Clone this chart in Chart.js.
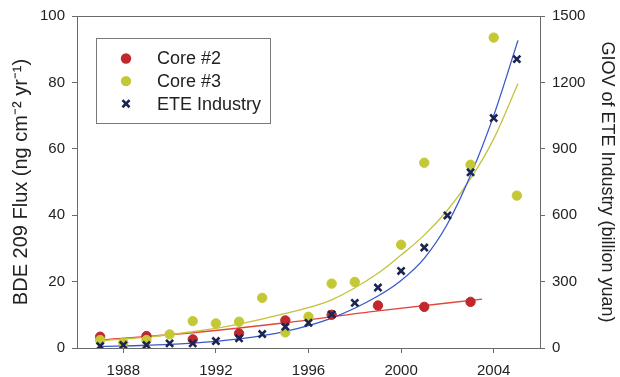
<!DOCTYPE html>
<html>
<head>
<meta charset="utf-8">
<script src="https://cdn.jsdelivr.net/npm/chart.js@4.4.1/dist/chart.umd.min.js"></script>
<style>
  html, body { margin: 0; padding: 0; background: #ffffff; }
  #wrap { width: 620px; height: 377px; }
</style>
</head>
<body>
<div id="wrap"><canvas id="c" width="620" height="377"></canvas></div>
<script>
// BDE 209 flux in sediment cores (left axis) and GIOV of the ETE industry (right axis)
const xTicks = [1988, 1992, 1996, 2000, 2004];
const fluxTicks = [0, 20, 40, 60, 80, 100];
const giovTicks = [0, 300, 600, 900, 1200, 1500];

const core2Years = [1987, 1989, 1991, 1993, 1995, 1997, 1999, 2001, 2003];
const core2Flux  = [3.4, 3.6, 2.6, 4.4, 8.3, 10.0, 12.8, 12.4, 13.9];

const core3Years = [1987, 1988, 1989, 1990, 1991, 1992, 1993, 1994, 1995, 1996, 1997, 1998, 2000, 2001, 2003, 2004, 2005];
const core3Flux  = [2.4, 1.6, 2.4, 4.1, 8.1, 7.4, 7.9, 15.1, 4.7, 9.4, 19.4, 19.9, 31.1, 55.8, 55.2, 93.5, 45.9];

const eteYears = [1987, 1988, 1989, 1990, 1991, 1992, 1993, 1994, 1995, 1996, 1997, 1998, 1999, 2000, 2001, 2002, 2003, 2004, 2005];
const eteGiov  = [9, 13.5, 13.5, 21, 21, 31.5, 44, 63, 96, 114, 152, 204, 273, 348, 454, 599, 794, 1039, 1305];

// fitted trend curves
const core2FitYears = [1987, 1991, 1995, 1999, 2003.5];
const core2Fit      = [2.4, 4.6, 7.6, 11.2, 14.7];

const core3FitYears = [1987, 1989, 1991, 1993, 1995, 1997, 1999, 2000, 2001, 2002, 2003, 2004, 2005.05];
const core3Fit      = [2.2, 3.3, 4.9, 7.2, 10.4, 14.5, 22.5, 28.0, 34.0, 41.5, 51.0, 63.0, 79.7];

const eteFitYears = [1987, 1989, 1991, 1993, 1995, 1997, 1999, 2000, 2001, 2002, 2003, 2004, 2005.05];
const eteFit      = [7, 12.5, 22, 41, 75, 135, 235, 305, 405, 560, 780, 1050, 1390];

const pairs = (xs, ys) => xs.map((x, i) => ({ x: x, y: ys[i] }));

const FONT = "'Liberation Sans', Arial, Helvetica, sans-serif";
const AXIS_COLOR = '#6a6a6a';
const TEXT_COLOR = '#222222';

const RED = '#c0282d';
const YELLOW = '#c5c836';
const NAVY = '#1c2550';

const datasets = [
  { label: 'Core #2', data: pairs(core2Years, core2Flux), yAxisID: 'y', showLine: false,
    pointStyle: 'circle', pointRadius: 4.7, pointBorderWidth: 1,
    backgroundColor: RED, borderColor: RED, order: 2, inLegend: true },
  { label: 'Core #3', data: pairs(core3Years, core3Flux), yAxisID: 'y', showLine: false,
    pointStyle: 'circle', pointRadius: 4.7, pointBorderWidth: 1,
    backgroundColor: YELLOW, borderColor: YELLOW, order: 1, inLegend: true },
  { label: 'ETE Industry', data: pairs(eteYears, eteGiov), yAxisID: 'y2', showLine: false,
    pointStyle: 'crossRot', pointRadius: 5, pointBorderWidth: 2.6,
    backgroundColor: NAVY, borderColor: NAVY, order: 0, inLegend: true },
  { label: 'Core #2 fit', data: pairs(core2FitYears, core2Fit), yAxisID: 'y', showLine: true,
    pointRadius: 0, borderColor: '#e2463a', borderWidth: 1.3, cubicInterpolationMode: 'monotone', order: 5 },
  { label: 'Core #3 fit', data: pairs(core3FitYears, core3Fit), yAxisID: 'y', showLine: true,
    pointRadius: 0, borderColor: '#c4c23e', borderWidth: 1.3, cubicInterpolationMode: 'monotone', order: 4 },
  { label: 'ETE fit', data: pairs(eteFitYears, eteFit), yAxisID: 'y2', showLine: true,
    pointRadius: 0, borderColor: '#3a58cc', borderWidth: 1.3, cubicInterpolationMode: 'monotone', order: 3 }
];

// top frame line and the boxed legend inside the plot
const frameAndLegend = {
  id: 'frameAndLegend',
  afterDatasetsDraw(chart) {
    const ctx = chart.ctx;
    const a = chart.chartArea;
    ctx.save();
    ctx.strokeStyle = AXIS_COLOR;
    ctx.lineWidth = 1;
    ctx.beginPath();
    ctx.moveTo(a.left, a.top + 0.5);
    ctx.lineTo(a.right, a.top + 0.5);
    ctx.stroke();

    const box = { x: 96.5, y: 38.5, w: 174, h: 85 };
    ctx.fillStyle = '#ffffff';
    ctx.fillRect(box.x, box.y, box.w, box.h);
    ctx.strokeStyle = '#7a7a7a';
    ctx.strokeRect(box.x, box.y, box.w, box.h);

    const items = chart.data.datasets.filter(d => d.inLegend);
    ctx.font = '18px ' + FONT;
    ctx.textBaseline = 'middle';
    ctx.textAlign = 'left';
    items.forEach((d, i) => {
      const cx = 126;
      const cy = 58.5 + i * 22.6;
      ctx.fillStyle = d.backgroundColor;
      ctx.strokeStyle = d.borderColor;
      ctx.lineWidth = d.pointBorderWidth;
      ctx.beginPath();
      if (d.pointStyle === 'circle') {
        ctx.arc(cx, cy, d.pointRadius + 0.5, 0, Math.PI * 2);
        ctx.fill();
      } else {
        const o = d.pointRadius * Math.SQRT1_2;
        ctx.moveTo(cx - o, cy - o); ctx.lineTo(cx + o, cy + o);
        ctx.moveTo(cx + o, cy - o); ctx.lineTo(cx - o, cy + o);
        ctx.stroke();
      }
      ctx.fillStyle = TEXT_COLOR;
      ctx.fillText(d.label, 157, cy + 1);
    });
    ctx.restore();
  }
};

const tickFont = { family: FONT, size: 15 };

const axisGrid = { display: true, drawOnChartArea: false, drawTicks: true, tickLength: 5, color: AXIS_COLOR, lineWidth: 1 };
const axisBorder = { display: true, color: AXIS_COLOR, width: 1 };

new Chart(document.getElementById('c'), {
  type: 'scatter',
  data: { datasets: datasets },
  options: {
    responsive: false,
    animation: false,
    devicePixelRatio: 1,
    layout: { padding: { top: 15, left: 0, right: 0, bottom: 0 } },
    plugins: { legend: { display: false }, tooltip: { enabled: false } },
    scales: {
      x: {
        type: 'linear', position: 'bottom', min: 1986, max: 2006,
        grid: axisGrid, border: axisBorder,
        afterBuildTicks: s => { s.ticks = xTicks.map(v => ({ value: v })); },
        afterFit: s => { s.height = 29; },
        ticks: { font: tickFont, color: TEXT_COLOR, padding: 9, maxRotation: 0, autoSkip: false,
                 callback: v => String(v) }
      },
      y: {
        type: 'linear', position: 'left', min: 0, max: 100,
        grid: axisGrid, border: axisBorder,
        afterBuildTicks: s => { s.ticks = fluxTicks.map(v => ({ value: v })); },
        afterFit: s => { s.width = 77; },
        ticks: { font: tickFont, color: TEXT_COLOR, padding: 7, callback: v => String(v) },
        title: { display: true, text: 'BDE 209 Flux (ng cm\u207B\u00B2 yr\u207B\u00B9)',
                 font: { family: FONT, size: 20 },
                 color: TEXT_COLOR, padding: { top: 9, bottom: 0 } }
      },
      y2: {
        type: 'linear', position: 'right', min: 0, max: 1500,
        grid: axisGrid, border: axisBorder,
        afterBuildTicks: s => { s.ticks = giovTicks.map(v => ({ value: v })); },
        afterFit: s => { s.width = 80; },
        ticks: { font: tickFont, color: TEXT_COLOR, padding: 7, callback: v => String(v) },
        title: { display: true, text: 'GIOV of ETE Industry (billion yuan)',
                 font: { family: FONT, size: 18 },
                 color: TEXT_COLOR, padding: { top: 2, bottom: 0 } }
      }
    }
  },
  plugins: [frameAndLegend]
});
</script>
</body>
</html>
